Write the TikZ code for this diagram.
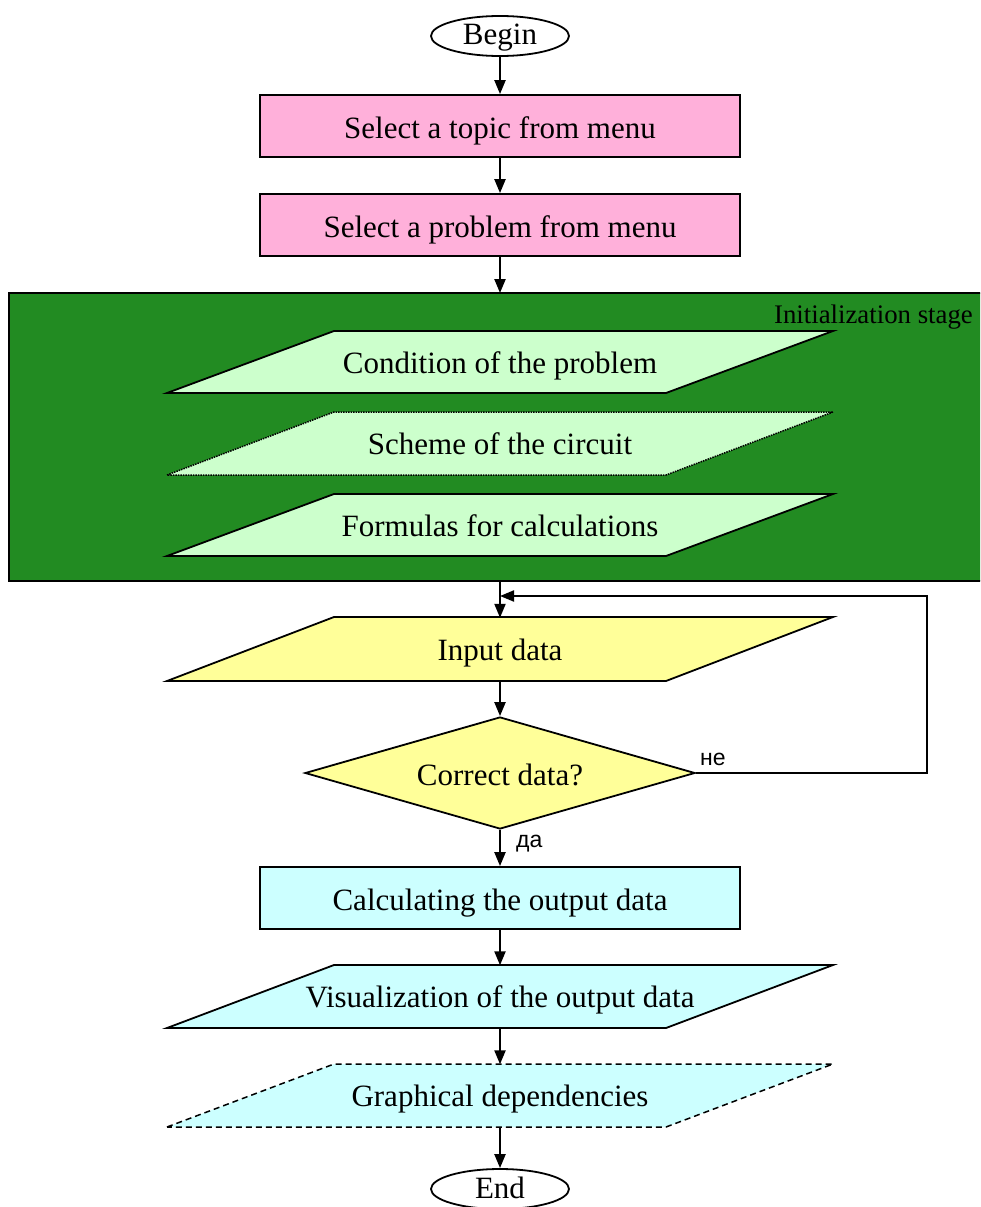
\documentclass[tikz,border=0pt]{standalone}
\usepackage{fontspec}
\setmainfont{Liberation Serif}
\newfontfamily\labelsans{Liberation Sans}
\usetikzlibrary{shapes.geometric,arrows.meta}

\definecolor{menupink}{HTML}{FFB0DA}
\definecolor{stagegreen}{HTML}{228B22}
\definecolor{palegreen}{HTML}{CCFFCC}
\definecolor{inputyellow}{HTML}{FFFF99}
\definecolor{outcyan}{HTML}{CCFFFF}

% slanted input/output box between top and bottom y, with a given look
\newcommand\slantbox[3]{%
  \path[#3] (167,#2) -- (334,#1) -- (833,#1) -- (666,#2) -- cycle;}

\begin{document}
\begin{tikzpicture}[x=1pt,y=-1pt,
  bigtext/.style={font=\fontsize{31}{32}\selectfont,
    text height=24pt, text depth=0pt},
  terminal/.style={ellipse, draw, line width=1.8pt, fill=white,
    minimum width=138, minimum height=40, inner sep=0pt, bigtext,
    text height=18pt},
  process/.style={rectangle, draw, line width=1.8pt,
    minimum width=480, minimum height=62, inner sep=0pt, bigtext},
  decision/.style={diamond, draw, line width=1.8pt, fill=inputyellow,
    aspect=3.48, minimum width=390, minimum height=112, inner sep=0pt,
    bigtext},
  slanttext/.style={rectangle, minimum width=500, minimum height=62,
    inner sep=0pt, bigtext, text height=22pt},
  slantsolid/.style={draw, line width=1.8pt, line join=miter},
  link/.style={line width=2.2pt, -{Triangle[length=14pt,width=11pt]}},
  answer/.style={font=\labelsans\fontsize{23}{24}\selectfont, inner sep=0pt}
]
\useasboundingbox (0,0) rectangle (980,1207);
\clip (0,0) rectangle (980,1207);

% initialization stage panel
\draw[fill=stagegreen, line width=2pt] (9,293) rectangle (1000,581);
\node[anchor=east, inner sep=0pt, font=\fontsize{26.8}{28}\selectfont]
  (stage) at (973,317) {Initialization stage};

% start
\node[terminal] (begin) at (500,36) {Begin};

% menu selection
\node[process, fill=menupink] (topic) at (500,126) {Select a topic from menu};
\node[process, fill=menupink] (problem) at (500,225) {Select a problem from menu};

% initialization contents
\slantbox{331}{393}{slantsolid, fill=palegreen}
\node[slanttext] (cond) at (500,362) {Condition of the problem};
\slantbox{412}{475}{draw, densely dotted, line width=1.5pt, fill=palegreen}
\node[slanttext] (scheme) at (500,443.5) {Scheme of the circuit};
\slantbox{494}{556}{slantsolid, fill=palegreen}
\node[slanttext] (formulas) at (500,525) {Formulas for calculations};

% input and check
\slantbox{617}{681}{slantsolid, fill=inputyellow}
\node[slanttext] (input) at (500,649) {Input data};
\node[decision] (check) at (500,773) {Correct data?};

% calculation and output
\node[process, fill=outcyan] (calc) at (500,898) {Calculating the output data};
\slantbox{965}{1028}{slantsolid, fill=outcyan}
\node[slanttext] (visual) at (500,996.5) {Visualization of the output data};
\slantbox{1064}{1127}{draw, dashed, dash pattern=on 6pt off 4pt, line width=1.5pt, fill=outcyan}
\node[slanttext] (graph) at (500,1095.5) {Graphical dependencies};

% end
\node[terminal] (end) at (500,1189) {End};

% connectors
\coordinate (stagetop) at (500,293);
\coordinate (stagebottom) at (500,581);
\coordinate (loopin) at (500,596);
\coordinate (loopcorner1) at (927,773);
\coordinate (loopcorner2) at (927,596);

\draw[link] (begin.south) -- (topic.north);
\draw[link] (topic.south) -- (problem.north);
\draw[link] (problem.south) -- (stagetop);
\draw[link] (stagebottom) -- (input.north);
\draw[link] (input.south) -- (check.north);
\draw[link] (check.south) -- (calc.north);
\draw[link] (calc.south) -- (visual.north);
\draw[link] (visual.south) -- (graph.north);
\draw[link] (graph.south) -- (end.north);
\draw[link, line width=2pt] (check.east) -- (loopcorner1) -- (loopcorner2) -- (loopin);

\node[answer, anchor=south west] (no) at (700,766) {не};
\node[answer, anchor=west] (yes) at (516,844) {да};
\end{tikzpicture}
\end{document}
